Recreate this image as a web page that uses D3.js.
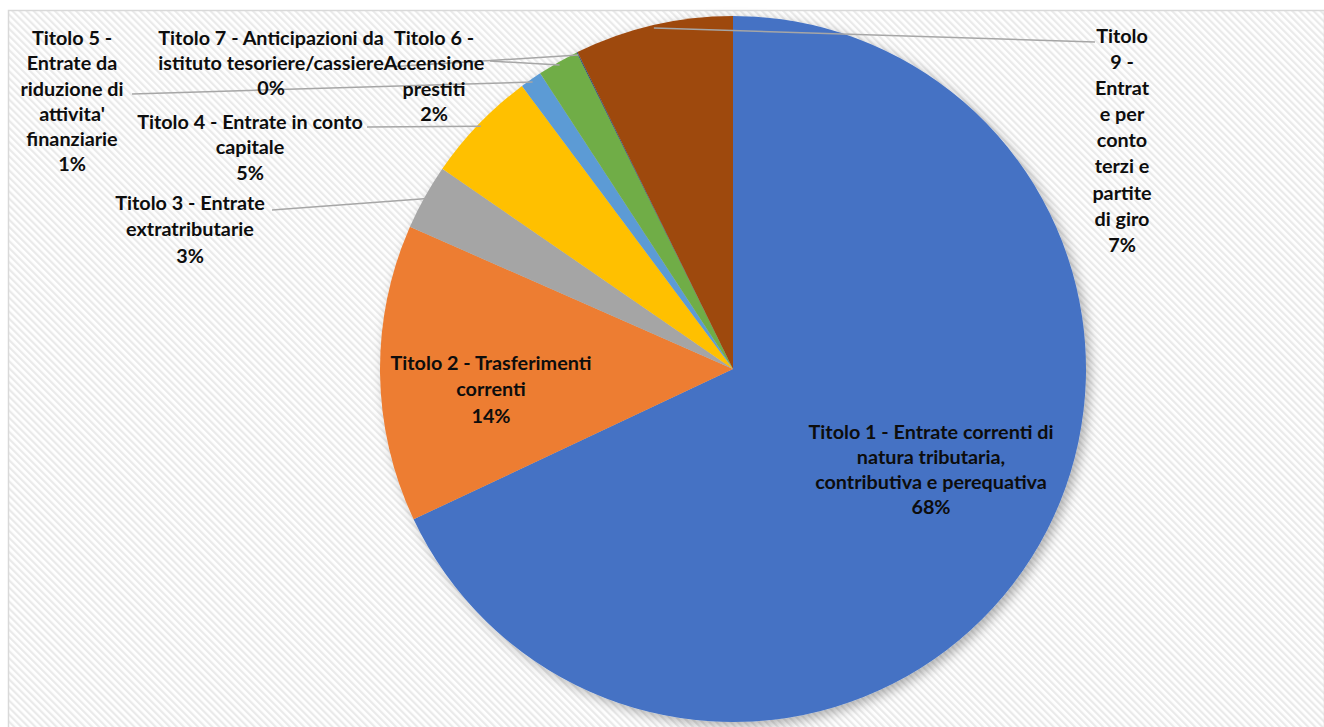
<!DOCTYPE html>
<html>
<head>
<meta charset="utf-8">
<script src="https://cdn.jsdelivr.net/npm/d3@7"></script>
<style>
  html, body { margin: 0; padding: 0; background: #ffffff; }
  svg { display: block; }
  text { font-family: Lato, "Open Sans", sans-serif; font-weight: 700; fill: #0d0d0d; }
</style>
</head>
<body>
<svg id="chart" width="1324" height="727"></svg>
<script>
// Revenue composition by "Titolo" (share of total entrate)
const categories = [
  "Titolo 1 - Entrate correnti di natura tributaria, contributiva e perequativa",
  "Titolo 2 - Trasferimenti correnti",
  "Titolo 3 - Entrate extratributarie",
  "Titolo 4 - Entrate in conto capitale",
  "Titolo 5 - Entrate da riduzione di attivita' finanziarie",
  "Titolo 6 - Accensione prestiti",
  "Titolo 7 - Anticipazioni da istituto tesoriere/cassiere",
  "Titolo 9 - Entrate per conto terzi e partite di giro"
];
const values = [68.0, 13.6, 3.0, 5.2, 1.0, 1.9, 0.04, 7.26];
const colors = ["#4472C4", "#ED7D31", "#A5A5A5", "#FFC000", "#5B9BD5", "#70AD47", "#264478", "#9E480E"];

// Label placement: wrapped lines, centre x, first-line y, and leader-line start (null = inside slice)
const labelLayout = [
  { lines: ["Titolo 1 - Entrate correnti di", "natura tributaria,", "contributiva e perequativa"], x: 931, y: 432, step: 25, leader: null },
  { lines: ["Titolo 2 - Trasferimenti", "correnti"], x: 491, y: 363, step: 26.5, leader: null },
  { lines: ["Titolo 3 - Entrate", "extratributarie"], x: 190, y: 203, step: 26.5, leader: [272, 210] },
  { lines: ["Titolo 4 - Entrate in conto", "capitale"], x: 250, y: 122, step: 25.5, leader: [367, 127] },
  { lines: ["Titolo 5 -", "Entrate da", "riduzione di", "attivita'", "finanziarie"], x: 72, y: 38, step: 25.3, leader: [132, 94] },
  { lines: ["Titolo 6 -", "Accensione", "prestiti"], x: 434, y: 38, step: 25.5, leader: [490, 61] },
  { lines: ["Titolo 7 - Anticipazioni da", "istituto tesoriere/cassiere"], x: 271, y: 38, step: 25, leader: [387, 67] },
  { lines: ["Titolo", "9 -", "Entrat", "e per", "conto", "terzi e", "partite", "di giro"], x: 1122, y: 36, step: 26.1, leader: [1095, 42] }
];

const svg = d3.select("#chart");
const W = 1324, H = 727;
const cx = 733, cy = 369, R = 353;

// Background: white page with a light diagonal hatch inside the chart area
const defs = svg.append("defs");
const pat = defs.append("pattern")
  .attr("id", "hatch")
  .attr("patternUnits", "userSpaceOnUse")
  .attr("width", 5).attr("height", 5)
  .attr("patternTransform", "rotate(-45)");
pat.append("rect").attr("width", 5).attr("height", 5).attr("fill", "#ffffff");
pat.append("rect").attr("width", 2.2).attr("height", 5).attr("fill", "#eaeaea");

const shadow = defs.append("filter").attr("id", "pieShadow")
  .attr("x", "-10%").attr("y", "-10%").attr("width", "120%").attr("height", "120%");
shadow.append("feDropShadow")
  .attr("dx", 4).attr("dy", 4).attr("stdDeviation", 6)
  .attr("flood-color", "#000").attr("flood-opacity", 0.3);

svg.append("rect").attr("width", W).attr("height", H).attr("fill", "#ffffff");
svg.append("rect")
  .attr("x", 8.5).attr("y", 10.5)
  .attr("width", W - 8).attr("height", H - 9)
  .attr("fill", "url(#hatch)")
  .attr("stroke", "#d9d9d9").attr("stroke-width", 1.5);

const data = categories.map((c, i) => ({ name: c, value: values[i], color: colors[i], layout: labelLayout[i] }));
const total = d3.sum(values);
const pct = d3.format(".0%");

const pie = d3.pie().sort(null).value(d => d.value).startAngle(0).endAngle(2 * Math.PI);
const arcs = pie(data);
const arc = d3.arc().innerRadius(0).outerRadius(R);
const rimPoint = d3.arc().innerRadius(R - 3).outerRadius(R - 3);

const g = svg.append("g").attr("transform", `translate(${cx},${cy})`);

g.append("g").attr("filter", "url(#pieShadow)")
  .selectAll("path")
  .data(arcs)
  .join("path")
  .attr("d", arc)
  .attr("fill", d => d.data.color);

// Leader lines from outside labels to the slice rim
const leaders = arcs.filter(a => a.data.layout.leader);
svg.append("g")
  .selectAll("line")
  .data(leaders)
  .join("line")
  .attr("x1", d => d.data.layout.leader[0])
  .attr("y1", d => d.data.layout.leader[1])
  .attr("x2", d => cx + rimPoint.centroid(d)[0])
  .attr("y2", d => cy + rimPoint.centroid(d)[1])
  .attr("stroke", "#a6a6a6")
  .attr("stroke-width", 1.5);

// Data labels: category name lines followed by percentage
const labels = svg.append("g");
arcs.forEach(a => {
  const L = a.data.layout;
  const rows = L.lines.concat([pct(a.data.value / total)]);
  const t = labels.append("text")
    .attr("text-anchor", "middle")
    .attr("font-size", 19.8);
  rows.forEach((r, i) => {
    t.append("tspan")
      .attr("x", L.x)
      .attr("y", L.y + i * L.step)
      .attr("dy", "0.35em")
      .text(r);
  });
});
</script>
</body>
</html>
